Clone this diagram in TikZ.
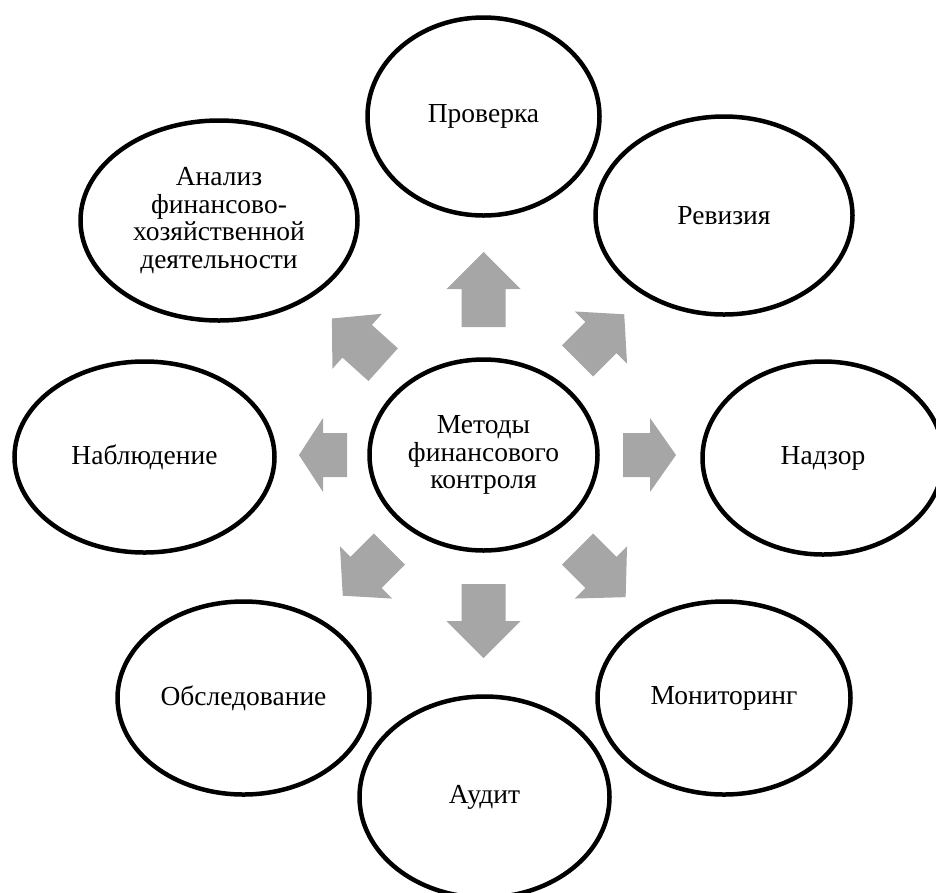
\documentclass[tikz,border=0pt]{standalone}
\usepackage{fontspec}
\setmainfont{Liberation Serif}
\usetikzlibrary{shapes.geometric}
\definecolor{arrgray}{RGB}{166,166,166}
\tikzset{
  ell/.style={ellipse, draw=black, line width=4.5pt, inner sep=0pt, align=center,
              font=\fontsize{27.5}{27.5}\selectfont},
  arr/.style={fill=arrgray, draw=none}
}
\newcommand{\blockarr}[5]{%
  \fill[arr, shift={(#1.center)}, rotate=#2]
    (#3,-22) -- (#4,-22) -- (#4,-37) -- (#5,0) -- (#4,37) -- (#4,22) -- (#3,22) -- cycle;}
\begin{document}
\begin{tikzpicture}[x=1pt, y=-1pt]
\useasboundingbox (0,0) rectangle (936,892);
\clip (0,0) rectangle (936,892);

\node[ell, minimum width=228pt, minimum height=191pt] (cen) at (483.5,455) {Методы\\финансового\\контроля};
\node[ell, minimum width=232pt, minimum height=198pt] (prov) at (483.5,116.5) {Проверка};
\node[ell, minimum width=257pt, minimum height=198pt] (rev) at (724,215.5) {Ревизия};
\node[ell, minimum width=241pt, minimum height=193pt] (nadz) at (823,458) {Надзор};
\node[ell, minimum width=253pt, minimum height=193pt] (mon) at (724,698) {Мониторинг};
\node[ell, minimum width=250pt, minimum height=201pt] (aud) at (484.5,797) {Аудит};
\node[ell, minimum width=252pt, minimum height=193pt] (obs) at (243.5,698) {Обследование};
\node[ell, minimum width=260pt, minimum height=191pt] (nab) at (144.5,457) {Наблюдение};
\node[ell, minimum width=277pt, minimum height=200pt] (an) at (219,220.5) {Анализ\\финансово-\\хозяйственной\\деятельности};

% block arrows from the centre
\blockarr{cen}{90}{128}{166}{203}
\blockarr{cen}{270}{129}{166}{203}
\blockarr{cen}{180}{136.5}{160.5}{184.5}
\blockarr{cen}{0}{139.5}{166.5}{192.5}
\blockarr{cen}{45}{133}{166}{199}
\blockarr{cen}{-45}{133}{166}{201}
\blockarr{cen}{225}{133}{166}{199}
\blockarr{cen}{138}{135}{170}{204}
\end{tikzpicture}
\end{document}
